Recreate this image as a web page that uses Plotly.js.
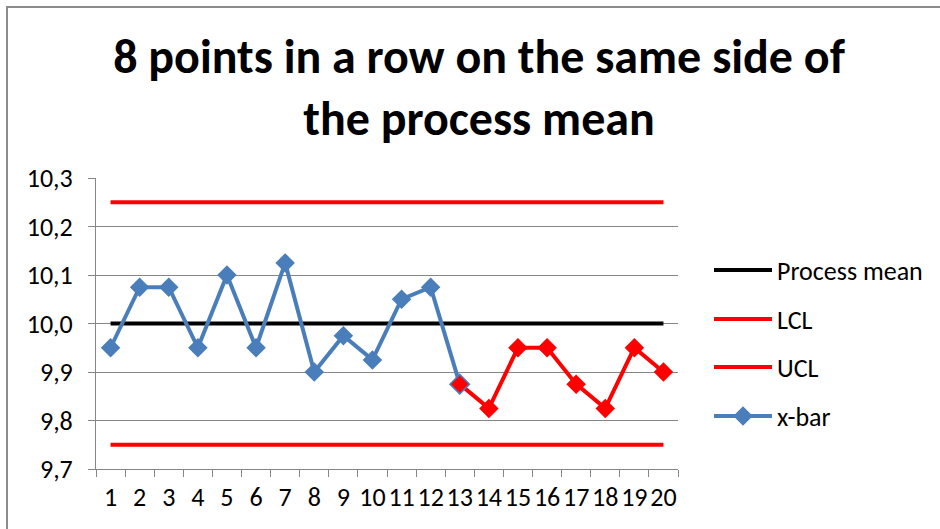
<!DOCTYPE html>
<html>
<head>
<meta charset="utf-8">
<script src="https://cdn.plot.ly/plotly-3.0.1.min.js"></script>
<style>
html,body{margin:0;padding:0;background:#fff;}
#wrap{position:relative;width:940px;height:529px;overflow:hidden;}
#chart{width:940px;height:529px;}
#frame{position:absolute;left:6px;top:6px;width:1000px;height:600px;border-top:2px solid #8c8c8c;border-left:2px solid #8c8c8c;pointer-events:none;}
</style>
</head>
<body>
<div id="wrap"><div id="chart"></div><div id="frame"></div></div>
<script>
const categories = ['1','2','3','4','5','6','7','8','9','10','11','12','13','14','15','16','17','18','19','20'];
const xbar = [9.95,10.075,10.075,9.95,10.1,9.95,10.125,9.9,9.975,9.925,10.05,10.075,9.875,9.825,9.95,9.95,9.875,9.825,9.95,9.9];
const processMean = [10,10,10,10,10,10,10,10,10,10,10,10,10,10,10,10,10,10,10,10];
const lcl = [9.75,9.75,9.75,9.75,9.75,9.75,9.75,9.75,9.75,9.75,9.75,9.75,9.75,9.75,9.75,9.75,9.75,9.75,9.75,9.75];
const ucl = [10.25,10.25,10.25,10.25,10.25,10.25,10.25,10.25,10.25,10.25,10.25,10.25,10.25,10.25,10.25,10.25,10.25,10.25,10.25,10.25];
const yTicks = [9.7,9.8,9.9,10.0,10.1,10.2,10.3];
const runStart = 12; // index where the run of points below the mean begins

const FONT = 'Calibri, Carlito, Lato, "Open Sans", sans-serif';
const BLUE = '#4a7ebb', RED = '#ff0000';

const traces = [
  {x: categories, y: processMean, name: 'Process mean', type: 'scatter', mode: 'lines',
   line: {color: '#000000', width: 4}, legend: 'legend'},
  {x: categories, y: lcl, name: 'LCL', type: 'scatter', mode: 'lines',
   line: {color: RED, width: 4}, legend: 'legend2'},
  {x: categories, y: ucl, name: 'UCL', type: 'scatter', mode: 'lines',
   line: {color: RED, width: 4}, legend: 'legend3'},
  {x: categories.slice(0, runStart + 1), y: xbar.slice(0, runStart + 1), name: 'x-bar', type: 'scatter', mode: 'lines+markers',
   line: {color: BLUE, width: 4}, marker: {symbol: 'diamond', size: 15, color: BLUE}, legend: 'legend4'},
  {x: categories.slice(runStart), y: xbar.slice(runStart), name: 'x-bar run', type: 'scatter', mode: 'lines+markers',
   line: {color: RED, width: 4},
   marker: {symbol: 'diamond', size: 15, color: RED,
            line: {color: categories.slice(runStart).map((c,i)=> i===0 ? BLUE : RED), width: categories.slice(runStart).map((c,i)=> i===0 ? 1.5 : 0)}},
   showlegend: false}
];

const legBase = {font: {family: FONT, size: 26, color: '#000'}, bgcolor: 'rgba(0,0,0,0)',
  xref: 'paper', yref: 'paper', xanchor: 'left', yanchor: 'middle', itemwidth: 58, borderwidth: 0};
const W = 940, H = 529, ml = 96, mr = 262, mt = 178, mb = 60;
const pw = W - ml - mr, ph = H - mt - mb;
function lx(px){ return (px - ml) / pw; }
function ly(py){ return 1 - (py - mt) / ph; }

const layout = {
  width: W, height: H,
  margin: {l: ml, r: mr, t: mt, b: mb, pad: 0},
  paper_bgcolor: '#ffffff', plot_bgcolor: '#ffffff',
  separators: ',.',
  font: {family: FONT, color: '#000'},
  title: {text: '<b>8 points in a row on the same side of<br>the process mean</b>',
          font: {family: FONT, size: 48, color: '#000'},
          x: 479 / W, xref: 'container', xanchor: 'center', y: 1 - 73 / H, yref: 'container', yanchor: 'middle'},
  xaxis: {type: 'category', tickmode: 'array', tickvals: categories, ticktext: categories, tickangle: 0,
          tickson: 'boundaries', ticks: 'outside', ticklen: 7, tickcolor: '#868686', tickwidth: 1,
          showline: true, linecolor: '#868686', linewidth: 1, showgrid: false, zeroline: false,
          range: [-0.5, 19.5], tickfont: {family: FONT, size: 26, color: '#000'}, ticklabelstandoff: 5},
  yaxis: {range: [9.7, 10.3], tickmode: 'array', tickvals: yTicks, tickformat: '.1f',
          ticks: 'outside', ticklen: 7, tickcolor: '#868686', tickwidth: 1,
          showline: true, linecolor: '#868686', linewidth: 1,
          showgrid: true, gridcolor: '#868686', gridwidth: 1, zeroline: false,
          tickfont: {family: FONT, size: 26, color: '#000'}, ticklabelstandoff: 10},
  legend:  Object.assign({}, legBase, {x: lx(709), y: ly(270)}),
  legend2: Object.assign({}, legBase, {x: lx(709), y: ly(319)}),
  legend3: Object.assign({}, legBase, {x: lx(709), y: ly(367)}),
  legend4: Object.assign({}, legBase, {x: lx(709), y: ly(416)}),
  showlegend: true
};

Plotly.newPlot('chart', traces, layout, {displayModeBar: false, staticPlot: true});
</script>
</body>
</html>
